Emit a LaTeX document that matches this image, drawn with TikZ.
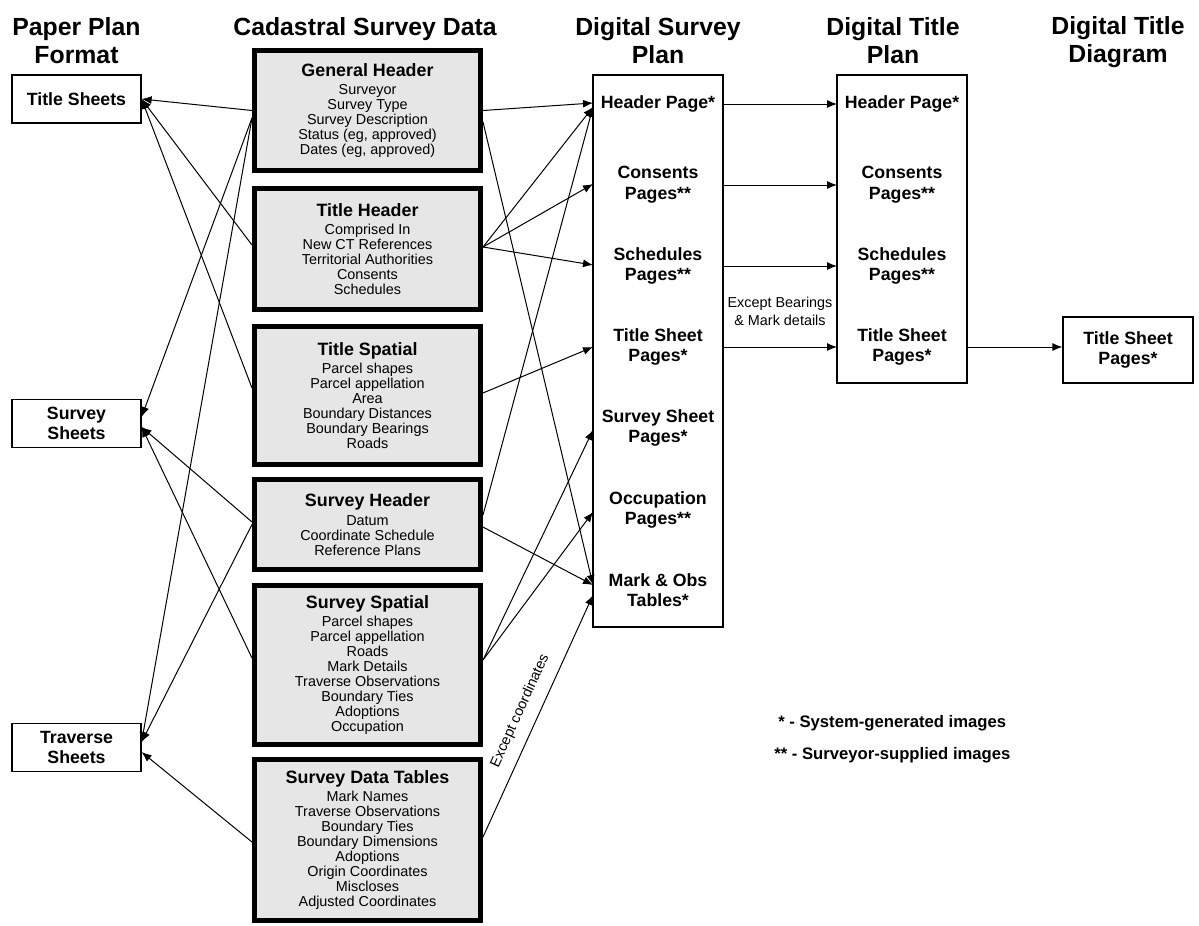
\documentclass[tikz,border=0pt]{standalone}
\usepackage{fontspec}
\setmainfont{Liberation Sans}
\usetikzlibrary{arrows.meta}
\definecolor{boxgray}{HTML}{E6E6E6}
\newcommand{\blocktitle}[1]{{\fontsize{13.4}{14}\selectfont\bfseries #1}\\[2.5pt]}

\begin{document}
\begin{tikzpicture}[x=0.75pt, y=-0.75pt,
		heading/.style={align=center, font=\fontsize{18.6}{21}\selectfont\bfseries},
		datablock/.style={draw, fill=boxgray, line width=3.75pt, minimum width=169.5pt, align=center, inner sep=2pt, font=\fontsize{10.8}{11.25}\selectfont},
		sheet/.style={draw, line width=0.9pt, minimum width=96.75pt, minimum height=36pt, align=center, font=\fontsize{13.3}{15.5}\selectfont\bfseries},
		pagebox/.style={draw, line width=0.9pt, minimum width=97.5pt},
		pageitem/.style={minimum width=97.5pt, inner sep=0pt, outer sep=0pt, align=center, font=\fontsize{13.3}{15.5}\selectfont\bfseries},
		remark/.style={align=center, font=\fontsize{10.8}{13.5}\selectfont},
		keytext/.style={anchor=west, inner sep=0pt, font=\fontsize{12.5}{15}\selectfont\bfseries},
		conn/.style={-{Latex[length=7.5pt,width=6pt]}, line width=0.75pt}]
				\useasboundingbox (0,0) rectangle (1199,925);
				% column headings
				\node[heading] (PPF) at (76.5,41) {Paper Plan\\Format};
				\node[heading] (CSD) at (365,29.5) {Cadastral Survey Data};
				\node[heading] (DSPH) at (658,41) {Digital Survey\\Plan};
				\node[heading] (DTPH) at (893,41) {Digital Title\\Plan};
				\node[heading] (DTDH) at (1118,42.5) {Digital Title\\Diagram};
				
				% paper plan sheets
				\node[sheet] (TS) at (76.5,99) {Title Sheets};
				\node[sheet] (SS) at (76.5,423.5) {Survey\\Sheets};
				\node[sheet] (TR) at (76.5,747.5) {Traverse\\Sheets};
				
				% cadastral survey data
				\node[datablock, minimum height=90pt] (GH) at (367.5,110.5) {\blocktitle{General Header}Surveyor\\Survey Type\\Survey Description\\Status (eg, approved)\\Dates (eg, approved)};
				\node[datablock, minimum height=90.75pt] (TH) at (367.5,249) {\blocktitle{Title Header}Comprised In\\New CT References\\Territorial Authorities\\Consents\\Schedules};
				\node[datablock, minimum height=103.5pt] (TSp) at (367.5,395.5) {\blocktitle{Title Spatial}Parcel shapes\\Parcel appellation\\Area\\Boundary Distances\\Boundary Bearings\\Roads};
				\node[datablock, minimum height=67.5pt] (SH) at (367.5,524.5) {\blocktitle{Survey Header}Datum\\Coordinate Schedule\\Reference Plans};
				\node[datablock, minimum height=119.25pt] (SSp) at (367.5,665) {\blocktitle{Survey Spatial}Parcel shapes\\Parcel appellation\\Roads\\Mark Details\\Traverse Observations\\Boundary Ties\\Adoptions\\Occupation};
				\node[datablock, minimum height=120.75pt] (SDT) at (367.5,840) {\blocktitle{Survey Data Tables}Mark Names\\Traverse Observations\\Boundary Ties\\Boundary Dimensions\\Adoptions\\Origin Coordinates\\Miscloses\\Adjusted Coordinates};
				
				% digital survey plan
				\node[pagebox, minimum height=414pt] (DSP) at (658,351) {};
				\node[pageitem] (HP) at (658,104) {Header Page*};
				\node[pageitem] (CP) at (658,185) {Consents\\Pages**};
				\node[pageitem] (SP) at (658,266) {Schedules\\Pages**};
				\node[pageitem] (TP) at (658,347) {Title Sheet\\Pages*};
				\node[pageitem] (SVP) at (658,428) {Survey Sheet\\Pages*};
				\node[pageitem] (OP) at (658,510) {Occupation\\Pages**};
				\node[pageitem] (MO) at (658,590) {Mark \& Obs\\Tables*};
				
				% digital title plan
				\node[pagebox, minimum height=231pt] (DTP) at (902,229) {};
				\node[pageitem] (HP2) at (902,104) {Header Page*};
				\node[pageitem] (CP2) at (902,185) {Consents\\Pages**};
				\node[pageitem] (SP2) at (902,266) {Schedules\\Pages**};
				\node[pageitem] (TP2) at (902,347) {Title Sheet\\Pages*};
				
				% digital title diagram
				\node[sheet, minimum width=97.5pt, minimum height=49.5pt] (DTD) at (1128,350) {Title Sheet\\Pages*};
				
				\node[remark] (EB) at (780,311) {Except Bearings\\\& Mark details};
				\node[keytext] (K1) at (778,723) {* - System-generated images};
				\node[keytext] (K2) at (774,755) {** - Surveyor-supplied images};
				
				% data to paper plan
				\draw[conn] (GH.west) -- (TS.east);
				\draw[conn] ([yshift=-5.6pt]GH.west) -- ([yshift=4.9pt]SS.east);
				\draw[conn] ([yshift=-5.6pt]GH.west) -- ([yshift=4.1pt]TR.east);
				\draw[conn] ([yshift=3pt]TH.west) -- (TS.east);
				\draw[conn] ([yshift=5.6pt]TSp.west) -- (TS.east);
				\draw[conn] ([yshift=1.9pt]SH.west) -- ([yshift=-2.6pt]SS.east);
				\draw[conn] (SH.west) -- ([yshift=4.1pt]TR.east);
				\draw[conn] ([yshift=5.25pt]SSp.west) -- ([yshift=-2.6pt]SS.east);
				\draw[conn] ([yshift=-1.5pt]SDT.west) -- ([yshift=-3.4pt]TR.east);
				
				% data to digital survey plan
				\draw[conn] (GH.east) -- ([yshift=0.75pt]HP.west);
				\draw[conn] ([yshift=-8.6pt]GH.east) -- ([yshift=3.75pt]MO.west);
				\draw[conn] ([yshift=1.5pt]TH.east) -- ([yshift=-2.25pt]HP.west);
				\draw[conn] ([yshift=1.5pt]TH.east) -- ([yshift=0.75pt]CP.west);
				\draw[conn] ([yshift=1.5pt]TH.east) -- ([yshift=0.75pt]SP.west);
				\draw[conn] ([yshift=1.9pt]TSp.east) -- (TP.west);
				\draw[conn] ([yshift=7.1pt]SH.east) -- ([yshift=-2.25pt]HP.west);
				\draw[conn] ([yshift=-1.9pt]SH.east) -- ([yshift=3.75pt]MO.west);
				\draw[conn] ([yshift=3.75pt]SSp.east) -- ([yshift=-1.5pt]SVP.west);
				\draw[conn] ([yshift=3.75pt]SSp.east) -- ([yshift=-1.5pt]OP.west);
				\draw[conn] ([yshift=2.25pt]SDT.east) -- node[pos=0.49, sloped, above=5pt, font=\fontsize{10.8}{13}\selectfont] {Except coordinates} ([yshift=-3.75pt]MO.west);
				
				% survey plan to title plan to diagram
				\draw[conn] (HP.east) -- (HP2.west);
				\draw[conn] (CP.east) -- (CP2.west);
				\draw[conn] (SP.east) -- (SP2.west);
				\draw[conn] (TP.east) -- (TP2.west);
				\draw[conn] (TP2.east) -- (TP2.east -| DTD.west);
		\end{tikzpicture}
\end{document}
